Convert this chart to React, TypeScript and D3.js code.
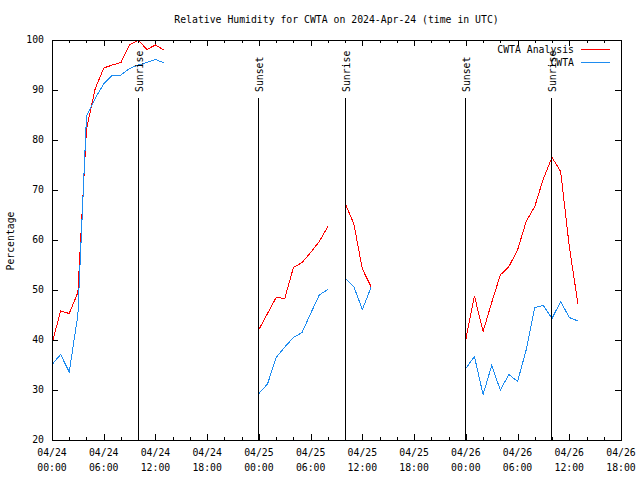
import React from "react";
import * as d3 from "d3";

const TITLE = "Relative Humidity for CWTA on 2024-Apr-24 (time in UTC)";
const Y_LABEL = "Percentage";
const START = "2024-04-24T00:00:00Z";
const END = "2024-04-26T18:00:00Z";

// hours since START; null separates gaps
const hours = [
  0, 1, 2, 3, 4, 5, 6, 7, 8, 9, 10, 11, 12, 13, 14,
  24, 25, 26, 27, 28, 29, 30, 31, 32, 33,
  34, 35, 36, 37, 38,
  48, 49, 50, 51, 52, 53, 54, 55, 56, 57, 58, 59, 60, 61,
];
const analysis: (number | null)[] = [
  39.3, 45.8, 45.3, 49.5, 82.2, 90.2, 94.4, 95.0, 95.5, 99.0, 100.0, 98.1, 99.0, 98.0, null,
  42.1, 45.3, 48.5, 48.3, 54.5, 55.5, 57.5, 59.7, 62.7, null,
  67.3, 63.3, 54.2, 50.7, null,
  40.1, 48.8, 41.7, 47.5, 53.0, 54.7, 58.0, 63.7, 66.7, 72.3, 76.5, 73.7, 58.7, 47.3,
];
const observed: (number | null)[] = [
  35.1, 37.1, 33.6, 45.0, 84.7, 88.3, 91.2, 93.0, 93.0, 94.3, 95.0, 95.5, 96.1, 95.4, null,
  29.3, 31.2, 36.5, 38.6, 40.5, 41.5, 45.3, 49.0, 50.1, null,
  52.3, 50.7, 46.1, 50.5, null,
  34.3, 36.7, 29.1, 34.9, 30.0, 33.1, 31.7, 38.0, 46.5, 46.9, 44.3, 47.7, 44.5, 43.8,
];

const sunEvents = [
  { label: "Sunrise", time: "2024-04-24T09:58:00Z" },
  { label: "Sunset", time: "2024-04-24T23:54:00Z" },
  { label: "Sunrise", time: "2024-04-25T09:56:00Z" },
  { label: "Sunset", time: "2024-04-25T23:52:00Z" },
  { label: "Sunrise", time: "2024-04-26T09:55:00Z" },
];

const legendNames = ["CWTA Analysis", "CWTA"];
const seriesColors = ["#ff0000", "#1e8cf0"];
const yTicks = [20, 30, 40, 50, 60, 70, 80, 90, 100];

const FONT = "'DejaVu Sans Mono', 'Liberation Mono', monospace";

export default function App() {
  const W = 640, H = 480;
  const left = 52, right = 621, top = 40, bottom = 440;
  const t0 = new Date(START);
  const t1 = new Date(END);
  const x = d3.scaleUtc().domain([t0, t1]).range([left, right]);
  const y = d3.scaleLinear().domain([20, 100]).range([bottom, top]);
  const px = (v: number) => Math.round(v) + 0.5;

  const toDate = (h: number) => new Date(t0.getTime() + h * 3600 * 1000);
  const makeLine = (vals: (number | null)[]) =>
    d3
      .line<number>()
      .defined((_, i) => vals[i] != null)
      .x((h) => x(toDate(h)))
      .y((_, i) => y(vals[i] as number))(hours) || "";

  const major = d3.utcHour.every(6)!.range(t0, new Date(t1.getTime() + 1));
  const minor = d3.utcHour.every(2)!.range(t0, new Date(t1.getTime() + 1));
  const fmtD = d3.utcFormat("%m/%d");
  const fmtT = d3.utcFormat("%H:%M");

  const majorLen = 6, minorLen = 3;

  return (
    <svg width={W} height={H} style={{ display: "block", position: "absolute", left: 0, top: 0, background: "#fff" }} fontFamily={FONT} fontSize={9.8}>
      <rect x={0} y={0} width={W} height={H} fill="#fff" />
      <text x={(left + right) / 2} y={23} textAnchor="middle" fill="#000">{TITLE}</text>
      <text transform={`translate(14,241) rotate(-90)`} textAnchor="middle" fill="#000">{Y_LABEL}</text>

      <g shapeRendering="crispEdges" stroke="#000" strokeWidth={1}>
        {yTicks.map((v) => (
          <g key={"y" + v}>
            <line x1={left} x2={left + majorLen} y1={px(y(v))} y2={px(y(v))} />
            <line x1={right - majorLen} x2={right} y1={px(y(v))} y2={px(y(v))} />
          </g>
        ))}
        {minor.map((d, i) => {
          const isMajor = d.getUTCHours() % 6 === 0;
          const len = isMajor ? majorLen : minorLen;
          const xx = px(x(d));
          return (
            <g key={"x" + i}>
              <line x1={xx} x2={xx} y1={bottom} y2={bottom - len} />
              <line x1={xx} x2={xx} y1={top} y2={top + len} />
            </g>
          );
        })}
      </g>

      {yTicks.map((v) => (
        <text key={"yl" + v} x={44} y={y(v)} dy="0.35em" textAnchor="end" fill="#000">{v}</text>
      ))}
      {major.map((d, i) => (
        <g key={"xl" + i}>
          <text x={x(d)} y={456} textAnchor="middle" fill="#000">{fmtD(d)}</text>
          <text x={x(d)} y={471} textAnchor="middle" fill="#000">{fmtT(d)}</text>
        </g>
      ))}

      <g fill="none" strokeWidth={1} shapeRendering="crispEdges">
        <path d={makeLine(analysis)} stroke={seriesColors[0]} />
        <path d={makeLine(observed)} stroke={seriesColors[1]} />
      </g>

      {legendNames.map((name, i) => (
        <g key={"lg" + i}>
          <text x={574} y={50 + i * 13} dy="0.35em" textAnchor="end" fill="#000">{name}</text>
          <line x1={581} x2={610} y1={49.5 + i * 13} y2={49.5 + i * 13} stroke={seriesColors[i]} shapeRendering="crispEdges" />
        </g>
      ))}

      {sunEvents.map((s, i) => {
        const xx = px(x(new Date(s.time)));
        return (
          <g key={"sun" + i}>
            <line x1={xx} x2={xx} y1={98} y2={bottom} stroke="#000" shapeRendering="crispEdges" />
            <text transform={`translate(${xx + 1},92) rotate(-90)`} dy="0.35em" textAnchor="start" fill="#000">{s.label}</text>
          </g>
        );
      })}

      <rect x={left + 0.5} y={top + 0.5} width={right - left} height={bottom - top} fill="none" stroke="#000" shapeRendering="crispEdges" />
    </svg>
  );
}
